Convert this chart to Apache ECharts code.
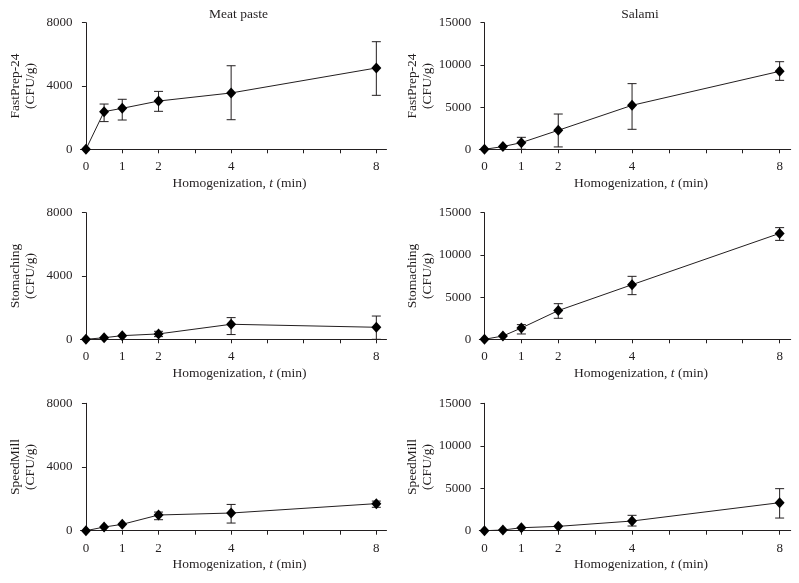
<!DOCTYPE html>
<html>
<head>
<meta charset="utf-8">
<script src="https://cdn.jsdelivr.net/npm/echarts@6/dist/echarts.min.js"></script>
<style>
html,body{margin:0;padding:0;background:#fff;}
#chart{width:799px;height:583px;}
</style>
</head>
<body>
<div id="chart"></div>
<script>
// ---- data ----
const times = [0, 0.5, 1, 2, 4, 8];
const xTickValues = [0, 1, 2, 3, 4, 5, 6, 7, 8];
const xLabelValues = [0, 1, 2, 4, 8];
const columnTitles = ['Meat paste', 'Salami'];
const rowNames = ['FastPrep-24', 'Stomaching', 'SpeedMill'];

const meatFastMean = [0, 2380, 2590, 3050, 3560, 5140];
const meatFastLow  = [0, 1750, 1850, 2400, 1870, 3410];
const meatFastHigh = [0, 2860, 3160, 3660, 5280, 6800];

const salamiFastMean = [0, 320, 790, 2250, 5210, 9240];
const salamiFastLow  = [0, 320, 0, 280, 2370, 8170];
const salamiFastHigh = [0, 320, 1420, 4180, 7780, 10380];

const meatStomMean = [0, 100, 230, 340, 950, 760];
const meatStomLow  = [0, 100, 230, 170, 300, 0];
const meatStomHigh = [0, 100, 230, 505, 1370, 1470];

const salamiStomMean = [0, 390, 1340, 3400, 6470, 12550];
const salamiStomLow  = [0, 390, 630, 2490, 5290, 11720];
const salamiStomHigh = [0, 390, 1740, 4220, 7460, 13230];

const meatSpeedMean = [0, 230, 400, 985, 1110, 1700];
const meatSpeedLow  = [0, 230, 400, 690, 480, 1470];
const meatSpeedHigh = [0, 230, 400, 1170, 1650, 1860];

const salamiSpeedMean = [0, 80, 350, 510, 1140, 3300];
const salamiSpeedLow  = [0, 80, 350, 510, 550, 1490];
const salamiSpeedHigh = [0, 80, 350, 510, 1810, 4950];

const yMaxLeft = 8000, yIntLeft = 4000;
const yMaxRight = 15000, yIntRight = 5000;

// ---- layout / style ----
const FONT = "'Liberation Serif','Times New Roman',serif";
const INK = '#231f20';
const panels = [
  {col:0,row:0,mean:meatFastMean,low:meatFastLow,high:meatFastHigh},
  {col:1,row:0,mean:salamiFastMean,low:salamiFastLow,high:salamiFastHigh},
  {col:0,row:1,mean:meatStomMean,low:meatStomLow,high:meatStomHigh},
  {col:1,row:1,mean:salamiStomMean,low:salamiStomLow,high:salamiStomHigh},
  {col:0,row:2,mean:meatSpeedMean,low:meatSpeedLow,high:meatSpeedHigh},
  {col:1,row:2,mean:salamiSpeedMean,low:salamiSpeedLow,high:salamiSpeedHigh}
];
const colGeom = [
  {left:80.5, width:306, xmin:-0.15, xmax:8.28, nameGap:43},
  {left:479.3, width:311.4, xmin:-0.14, xmax:8.3, nameGap:41}
];
const rowGeom = [
  {top:22.7, height:126.6},
  {top:212.7, height:126.6},
  {top:403.3, height:127.4}
];

const grids=[], xAxes=[], yAxes=[], series=[];
panels.forEach((p,i)=>{
  const cg = colGeom[p.col], rg = rowGeom[p.row];
  grids.push({left:cg.left, top:rg.top, width:cg.width, height:rg.height, containLabel:false});
  xAxes.push({
    type:'value', gridIndex:i, min:cg.xmin, max:cg.xmax,
    name:'Homogenization, {i|t} (min)', nameLocation:'middle', nameGap:27,
    nameTextStyle:{fontFamily:FONT, fontSize:13.5, color:INK, padding:[0,0,0,12],
      rich:{i:{fontStyle:'italic', fontFamily:FONT, fontSize:13.5, color:INK}}},
    axisLine:{onZero:false, lineStyle:{color:INK, width:1}},
    axisTick:{show:true, inside:false, length:4, customValues:xTickValues, lineStyle:{color:INK}},
    axisLabel:{customValues:xLabelValues, fontFamily:FONT, fontSize:13, color:INK, margin:11},
    splitLine:{show:false}
  });
  const yMax = p.col===0 ? yMaxLeft : yMaxRight;
  const yInt = p.col===0 ? yIntLeft : yIntRight;
  yAxes.push({
    type:'value', gridIndex:i, min:0, max:yMax, interval:yInt,
    name: rowNames[p.row] + '\n(CFU/g)', nameLocation:'middle', nameGap:cg.nameGap,
    nameTextStyle:{fontFamily:FONT, fontSize:13.5, color:INK, lineHeight:15},
    axisLine:{show:true, onZero:true, lineStyle:{color:INK, width:1}},
    axisTick:{show:true, inside:false, length:4, lineStyle:{color:INK}},
    axisLabel:{fontFamily:FONT, fontSize:13, color:INK, margin:8,
      formatter:function(v){ return String(v); }},
    splitLine:{show:false}
  });
  const errData = times.map((t,k)=>[t, p.low[k], p.high[k]]);
  series.push({
    type:'custom', xAxisIndex:i, yAxisIndex:i, z:1, clip:false,
    data: errData,
    renderItem:function(params, api){
      const lo = api.value(1), hi = api.value(2);
      if (hi - lo <= 0) return null;
      const a = api.coord([api.value(0), lo]);
      const b = api.coord([api.value(0), hi]);
      const w = 4.5;
      const st = {stroke:INK, lineWidth:1};
      return {type:'group', children:[
        {type:'line', shape:{x1:a[0],y1:a[1],x2:b[0],y2:b[1]}, style:st},
        {type:'line', shape:{x1:a[0]-w,y1:a[1],x2:a[0]+w,y2:a[1]}, style:st},
        {type:'line', shape:{x1:b[0]-w,y1:b[1],x2:b[0]+w,y2:b[1]}, style:st}
      ]};
    }
  });
  series.push({
    type:'line', xAxisIndex:i, yAxisIndex:i, z:2, clip:false,
    data: times.map((t,k)=>[t, p.mean[k]]),
    symbol:'diamond', symbolSize:[10,11], showSymbol:true,
    lineStyle:{color:INK, width:1}, itemStyle:{color:'#000'},
    emphasis:{disabled:true}, animation:false
  });
});

const titles = columnTitles.map((txt,c)=>({
  text: txt, left: colGeom[c].left + colGeom[c].width/2, top: 2, textAlign:'center',
  textStyle:{fontFamily:FONT, fontSize:13.5, fontWeight:'normal', color:INK}
}));

const chart = echarts.init(document.getElementById('chart'), null, {renderer:'canvas'});
chart.setOption({
  backgroundColor:'#fff',
  animation:false,
  title: titles,
  grid: grids,
  xAxis: xAxes,
  yAxis: yAxes,
  series: series
});
</script>
</body>
</html>
